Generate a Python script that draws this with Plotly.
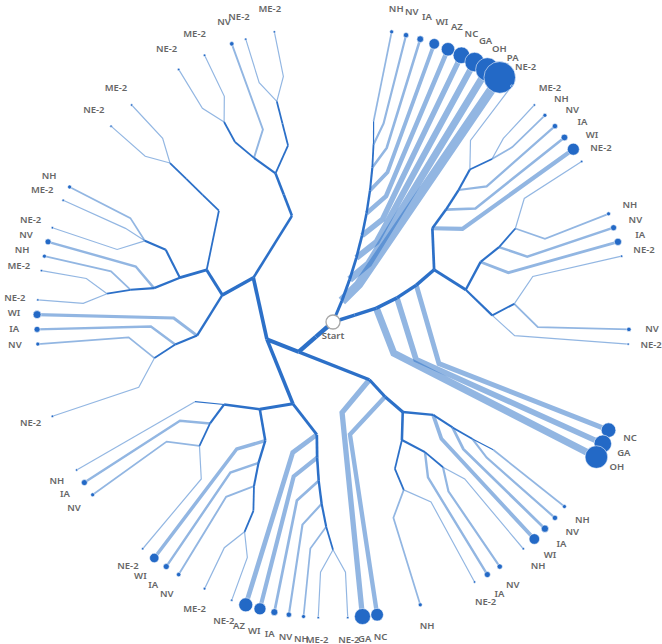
import math
import plotly.graph_objects as go

# ---------------- data ----------------
# internal decision nodes of the path tree (id -> parent)
INTERNAL_IDS = [
    "T1", "T2", "T3", "T4", "T5", "T6", "T7", "T8", "T9",
    "B1", "Ba", "Bb", "Bc", "NR", "NR1", "Z7", "Z8", "Z9", "Z10",
    "NR2", "X7", "X8", "X9", "Y7", "Y8",
    "C1", "C2", "C3b", "C4", "C5", "H6", "H7", "H8", "H9",
    "H6b", "I7", "I8", "J7", "J8",
    "C3a", "D4", "D5b", "F6", "F7", "F8", "F9", "F10",
    "D5a", "G6", "G7", "G8", "G9", "G10", "E6", "E7a", "E8", "E7b",
    "Q4", "Q5a", "R6b", "R7", "R8", "R6a", "H7p", "Jp", "N9", "N10",
    "H8p", "K", "P7", "P8", "P9", "S10",
    "Q5b", "U6", "U7", "W8", "W9", "W10", "V8", "V9", "V10",
]
INTERNAL_PARENTS = [
    "Start", "T1", "T2", "T3", "T4", "T5", "T6", "T7", "T8",
    "Start", "B1", "Ba", "Bb", "Bc", "NR", "NR1", "Z7", "Z8", "Z9",
    "NR", "NR2", "X7", "X8", "NR2", "Y7",
    "Start", "C1", "C2", "C3b", "C4", "C5", "H6", "H7", "H8",
    "C5", "H6b", "I7", "H6b", "J7",
    "C2", "C3a", "D4", "D5b", "F6", "F7", "F8", "F9",
    "D4", "D5a", "G6", "G7", "G8", "G9", "D5a", "E6", "E7a", "E6",
    "C3a", "Q4", "Q5a", "R6b", "R7", "Q5a", "R6a", "H7p", "Jp", "N9",
    "H7p", "H8p", "R6a", "P7", "P8", "P9",
    "Q4", "Q5b", "U6", "U7", "W8", "W9", "U7", "V8", "V9",
]

# leaves (clockwise order): clinching state, parent node, weight, pruned branches before
LEAF_LABELS = [
    "NH", "NV", "IA", "WI", "AZ", "NC", "GA", "OH", "PA",
    "NE-2", "ME-2", "NH", "NV", "IA", "WI",
    "NE-2", "NH", "NV", "IA", "NE-2", "NV", "NE-2",
    "NC", "GA", "OH",
    "NH", "NV", "IA", "WI", "NH", "NV", "IA", "NE-2", "NH",
    "NC", "GA",
    "NE-2", "ME-2", "NH", "NV", "IA", "WI", "AZ",
    "NE-2", "ME-2", "NV", "IA", "WI",
    "NE-2", "NV", "IA", "NH",
    "NE-2", "NV", "IA", "WI",
    "NE-2", "ME-2", "NH", "NV", "NE-2", "ME-2", "NH",
    "NE-2", "ME-2",
    "NE-2", "ME-2", "NV", "NE-2", "ME-2",
]
LEAF_PARENTS = [
    "T9", "T8", "T7", "T6", "T5", "T4", "T3", "T2", "T1",
    "Z9", "Z10", "Z10", "Z8", "Z7", "NR1",
    "X9", "X9", "X8", "X7", "Y8", "Y8", "Y7",
    "Bc", "Bb", "Ba",
    "H9", "H8", "H7", "H6", "I8", "I8", "I7", "J8", "J8",
    "C4", "C3b",
    "F10", "F10", "F9", "F8", "F7", "F6", "D5b",
    "G10", "G10", "G8", "G7", "G6",
    "E8", "E8", "E7a", "E7b",
    "R8", "R8", "R7", "R6b",
    "N10", "N10", "N9", "Jp", "K", "K", "K",
    "S10", "S10",
    "W10", "W10", "W8", "V10", "V10",
]
LEAF_WEIGHTS = [
    4, 7, 11, 28, 45, 69, 94, 137, 250,
    1.5, 1.5, 4, 7, 11, 36,
    1.5, 4, 9, 13, 1.5, 5, 1.5,
    53, 76, 128,
    4, 7, 13, 28, 1.5, 7, 9, 1.5, 4,
    40, 64,
    1.5, 1.5, 4, 7, 12, 36, 49,
    1.5, 1.8, 5, 9, 22,
    1.5, 4, 9, 1.5,
    1.5, 4, 9, 16,
    1.5, 1.5, 4, 9, 1.5, 1.5, 4,
    1.5, 1.5,
    1.5, 1.5, 5, 1.5, 1.5,
]
LEAF_PRUNED_BEFORE = [
    4, 0, 0, 0, 0, 0, 0, 0, 0,
    0, 1, 0, 0, 0, 0,
    0, 3, 0, 0, 0, 4, 0,
    5, 0, 0,
    3, 0, 0, 0, 0, 1, 0, 0, 3,
    2, 0,
    0, 1, 0, 0, 0, 0, 0,
    0, 1, 1, 0, 0,
    0, 4, 0, 0,
    3, 4, 0, 0,
    0, 1, 0, 0, 0, 1, 0,
    4, 1,
    3, 1, 1, 0, 1,
]
PRUNED_AFTER = 3

# ---------------- layout ----------------
parent_of = dict(zip(INTERNAL_IDS, INTERNAL_PARENTS))
depth = {"Start": 0}


def get_depth(n):
    if n not in depth:
        depth[n] = get_depth(parent_of[n]) + 1
    return depth[n]


for n in INTERNAL_IDS:
    get_depth(n)
LEAF_LEVEL = max(depth.values()) + 3

slots = len(LEAF_LABELS) + sum(LEAF_PRUNED_BEFORE) + PRUNED_AFTER
leaf_theta = []
k = 0
for pb in LEAF_PRUNED_BEFORE:
    k += pb
    leaf_theta.append(2 * math.pi * k / slots)
    k += 1

acc = {n: [0.0, 0] for n in INTERNAL_IDS}
for th, p in zip(leaf_theta, LEAF_PARENTS):
    n = p
    while n != "Start":
        acc[n][0] += th
        acc[n][1] += 1
        n = parent_of[n]
theta = {n: acc[n][0] / acc[n][1] for n in INTERNAL_IDS}
nleaves = {n: acc[n][1] for n in INTERNAL_IDS}


def pos(r, th):
    return r * math.sin(th), r * math.cos(th)


def node_xy(n):
    if n == "Start":
        return 0.0, 0.0
    return pos(depth[n], theta[n])


DARK = "#2c70c8"
LIGHT = "rgba(46,115,200,0.52)"
FONT = dict(family="Noto Sans, Open Sans, sans-serif", size=9.5, color="#666666", weight=600)

fig = go.Figure()

# leaf edges (light)
for lab, p, w, th in zip(LEAF_LABELS, LEAF_PARENTS, LEAF_WEIGHTS, leaf_theta):
    x0, y0 = node_xy(p)
    x1, y1 = pos(depth[p] + 1, th)
    x2, y2 = pos(LEAF_LEVEL, th)
    fig.add_trace(go.Scatter(
        x=[x0, x1, x2], y=[y0, y1, y2], mode="lines",
        line=dict(color=LIGHT, width=max(1.0, w ** 0.4)),
        hoverinfo="skip", showlegend=False))

# internal edges (dark)
for n in INTERNAL_IDS:
    x0, y0 = node_xy(parent_of[n])
    x1, y1 = node_xy(n)
    fig.add_trace(go.Scatter(
        x=[x0, x1], y=[y0, y1], mode="lines",
        line=dict(color=DARK, width=1.2 + 0.85 * math.log(nleaves[n])),
        hoverinfo="skip", showlegend=False))

# leaf markers
lx, ly, sizes = [], [], []
for w, th in zip(LEAF_WEIGHTS, leaf_theta):
    x, y = pos(LEAF_LEVEL, th)
    lx.append(x)
    ly.append(y)
    sizes.append(2 * math.sqrt(w))
fig.add_trace(go.Scatter(
    x=lx, y=ly, mode="markers",
    marker=dict(size=sizes, color="#2369c6", opacity=1,
                line=dict(color="rgba(255,255,255,0.8)", width=0.7)),
    text=LEAF_LABELS, hoverinfo="text", showlegend=False))

# leaf labels
PX = 296 / LEAF_LEVEL  # pixels per level
tx, ty = [], []
for th in leaf_theta:
    x, y = pos(LEAF_LEVEL + 23 / PX, th)
    tx.append(x)
    ty.append(y)
fig.add_trace(go.Scatter(
    x=tx, y=ty, mode="text", text=LEAF_LABELS, textposition="middle center",
    textfont=FONT, hoverinfo="skip", showlegend=False))

# start node
fig.add_trace(go.Scatter(
    x=[0], y=[0], mode="markers+text", text=["Start"], textposition="bottom center",
    marker=dict(size=14, color="white", line=dict(color="#a8a8a8", width=1.3)),
    textfont=FONT, hoverinfo="skip", showlegend=False))

W, H = 662, 644
CX, CY = 333, 322
fig.update_layout(
    width=W, height=H, margin=dict(l=0, r=0, t=0, b=0),
    paper_bgcolor="white", plot_bgcolor="white",
    xaxis=dict(range=[-CX / PX, (W - CX) / PX], visible=False, fixedrange=True),
    yaxis=dict(range=[-(H - CY) / PX, CY / PX], visible=False, fixedrange=True),
)

fig.write_html("out.html", include_plotlyjs=True,
               config={"displayModeBar": False},
               post_script="document.body.style.margin='0px';")
